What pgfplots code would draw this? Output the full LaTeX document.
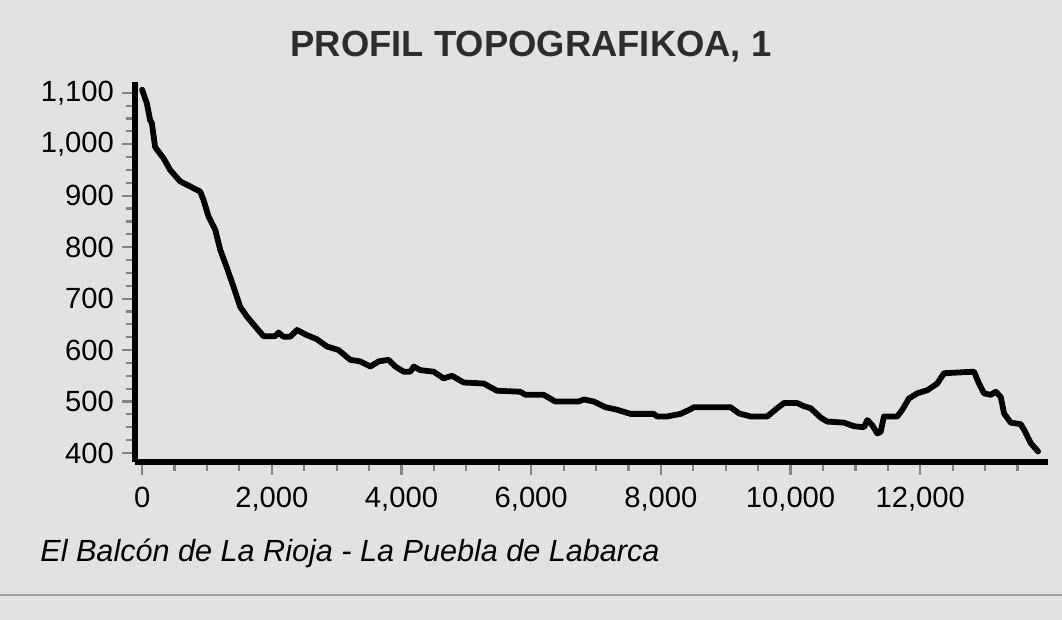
\documentclass[border=0pt]{standalone}
\usepackage{pgfplots}
\pgfplotsset{compat=1.18}
\usepackage{fontspec}
\setmainfont{Liberation Sans}
\definecolor{bgc}{RGB}{226,226,226}
\definecolor{tickc}{RGB}{130,130,130}
\definecolor{titlec}{RGB}{45,45,45}
\definecolor{linec}{RGB}{160,160,160}
\begin{document}
\begin{tikzpicture}[x=1pt,y=1pt]
\fill[bgc] (0,0) rectangle (531,310);
\useasboundingbox (0,0) rectangle (531,310);
\node[anchor=base, text=titlec, font=\fontsize{18.2}{21}\selectfont\bfseries] at (265.5,281.5) {PROFIL TOPOGRAFIKOA, 1};
\node[anchor=base west, inner sep=0pt, font=\fontsize{15.3}{18}\selectfont\itshape] at (20,29) {El Balcón de La Rioja - La Puebla de Labarca};
\draw[linec, line width=1pt] (0,12.5) -- (531,12.5);
\begin{axis}[
  at={(67.5pt,79pt)}, anchor=south west,
  scale only axis, width=456.5pt, height=190pt,
  xmin=-110, xmax=13970, ymin=382.5, ymax=1121,
  axis x line=bottom, axis y line=left,
  axis line style={-, line width=2.6pt, black},
  xtick distance=2000, ytick distance=100,
  minor x tick num=3, minor y tick num=3,
  tick align=outside,
  major tick length=6.5pt, minor tick length=4.5pt,
  tick style={tickc, line width=1.1pt},
  scaled ticks=false,
  /pgf/number format/.cd, 1000 sep={,}, assume math mode=true,
  /pgfplots/.cd,
  tick label style={font=\fontsize{14.6}{17}\selectfont, black},
  xticklabel style={yshift=-2.5pt},
  yticklabel style={xshift=-0.5pt},
  clip=false,
]
\addplot[black, line width=2.9pt, line join=round, line cap=round] coordinates {
(0,1106) (72,1080) (123,1047) (150,1041) (200,995) (227,990) (329,973) (432,950) (586,928)
(741,918) (895,908) (946,892) (1023,860) (1127,834) (1204,795) (1307,760) (1409,723)
(1512,684) (1616,665) (1770,642) (1872,627) (2052,627) (2103,634) (2180,626) (2284,626)
(2387,639) (2542,629) (2696,621) (2850,607) (3030,600) (3210,581) (3364,578) (3519,568)
(3647,578) (3801,581) (3904,568) (4033,558) (4136,558) (4188,568) (4290,561) (4496,558)
(4650,545) (4779,550) (4958,537) (5267,535) (5472,521) (5833,519) (5910,513) (6193,513)
(6373,500) (6733,500) (6810,504) (6965,500) (7145,489) (7325,484) (7531,476) (7890,476)
(7942,471) (8097,471) (8302,476) (8457,485) (8508,489) (9074,489) (9203,477) (9383,471)
(9640,471) (9794,487) (9897,497) (10103,497) (10206,491) (10309,487) (10463,469) (10566,461)
(10823,459) (10978,452) (11132,450) (11183,464) (11260,454) (11337,438) (11389,441) (11440,471)
(11646,471) (11723,484) (11826,506) (11955,516) (12109,522) (12263,535) (12366,555) (12829,558)
(12906,535) (12983,516) (13086,513) (13164,519) (13241,509) (13292,477) (13395,459) (13549,456)
(13601,445) (13704,419) (13817,403)
};
\end{axis}
\end{tikzpicture}
\end{document}
